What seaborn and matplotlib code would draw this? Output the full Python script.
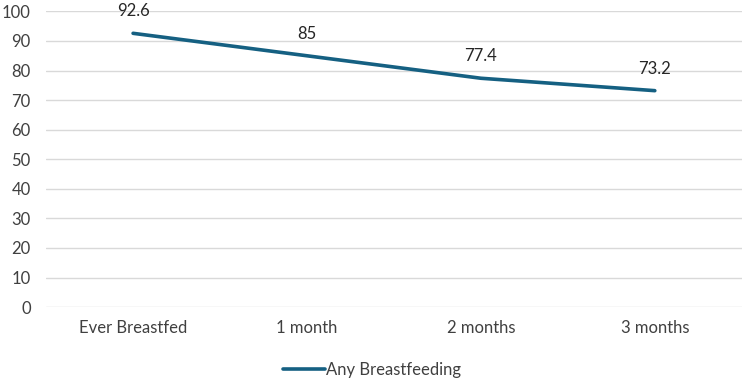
import matplotlib
matplotlib.use("Agg")
import matplotlib.pyplot as plt
import seaborn as sns
import pandas as pd

# data
categories = ["Ever Breastfed", "1 month", "2 months", "3 months"]
any_bf = [92.6, 85, 77.4, 73.2]
labels = ["92.6", "85", "77.4", "73.2"]

sns.set_style("white")
plt.rcParams['font.family'] = ['Lato', 'DejaVu Sans']

df = pd.DataFrame({"cat": categories, "val": any_bf})

fig = plt.figure(figsize=(7.44, 3.81), dpi=100)
ax = fig.add_axes([0.062, 0.194, 0.935, 0.776])

line_color = "#156082"
sns.lineplot(data=df, x="cat", y="val", ax=ax, color=line_color, linewidth=2.6,
             sort=False, label="Any Breastfeeding", legend=False)

for i, (v, t) in enumerate(zip(any_bf, labels)):
    ax.annotate(t, (i, v), xytext=(0, 10), textcoords="offset points",
                ha="center", va="bottom", fontsize=12, color="#262626")

ax.set_xlim(-0.5, 3.5)
ax.set_ylim(0, 100)
ax.set_yticks(range(0, 101, 10))
ax.yaxis.grid(True, color="#D9D9D9", linewidth=1)
ax.set_axisbelow(True)
for s in ax.spines.values():
    s.set_visible(False)
ax.set_xlabel("")
ax.set_ylabel("")
ax.tick_params(axis="both", length=0, labelsize=12, labelcolor="#404040")
ax.tick_params(axis="y", pad=11)
ax.tick_params(axis="x", pad=9)

handles, lbls = ax.get_legend_handles_labels()
fig.legend(handles, lbls, loc="center", bbox_to_anchor=(0.5, 0.03), frameon=False,
           fontsize=12, handlelength=2.5, handletextpad=0.1, labelcolor="#404040")

plt.savefig("out.png", dpi=100)
